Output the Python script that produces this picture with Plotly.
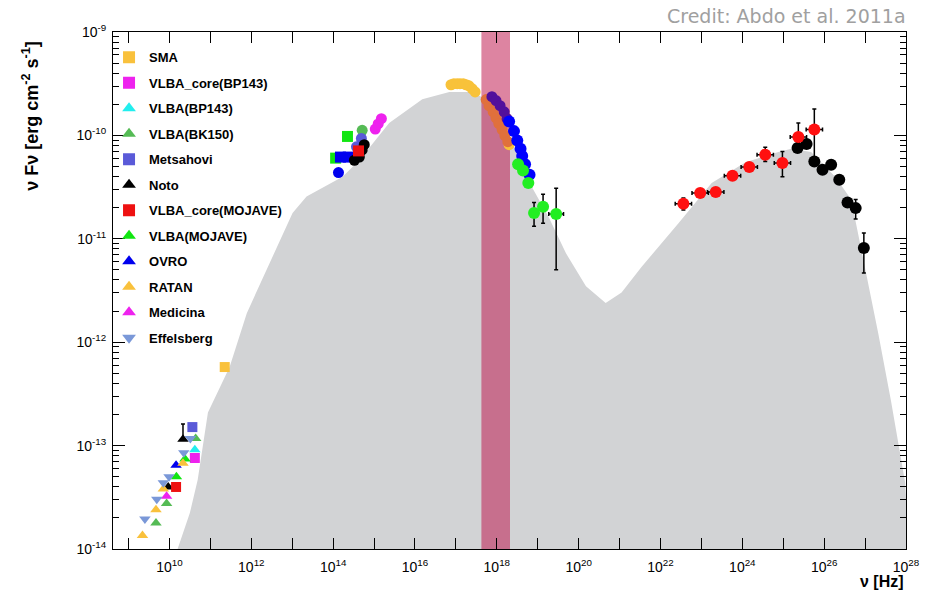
import plotly.graph_objects as go

# ---------------- data ----------------
# SSC model envelope (grey area)
model_nu = [1.58e10, 3.16e10, 4.90e10, 8.71e10, 2.95e11, 7.76e11, 4.17e12, 1.02e13, 2.24e13,
            1.70e14, 4.37e14, 2.34e15, 1.51e16, 6.92e16, 2.51e17, 4.37e17, 1.12e18, 2.34e18,
            7.24e18, 1.86e19, 4.90e19, 1.51e20, 4.57e20, 1.12e21, 3.47e21, 2.75e22, 1.78e23,
            1.20e24, 7.59e24, 1.58e25, 4.79e25, 1.86e26, 4.57e26, 1.00e27, 2.09e27, 4.27e27,
            9.55e27, 1.12e28]
model_flux = [1.00e-14, 2.24e-14, 4.68e-14, 2.09e-13, 5.75e-13, 1.91e-12, 8.32e-12, 1.78e-11, 2.57e-11,
              3.98e-11, 5.75e-11, 1.32e-10, 2.24e-10, 2.63e-10, 2.63e-10, 2.34e-10, 1.51e-10, 8.51e-11,
              3.16e-11, 1.62e-11, 7.24e-12, 3.47e-12, 2.40e-12, 3.02e-12, 5.37e-12, 1.41e-11, 3.47e-11,
              5.50e-11, 6.92e-11, 7.41e-11, 6.92e-11, 3.98e-11, 2.40e-11, 5.37e-12, 1.23e-12, 2.75e-13,
              4.37e-14, 1.41e-14]

# X-ray band (2-10 keV)
band_nu = [4.2e17, 2.1e18]

# Radio data (legend entries)
radio = [
    # name, symbol, color, nu, flux
    ("SMA", "square", "#f9c13c", [2.24e11], [5.75e-13]),
    ("VLBA_core(BP143)", "square", "#ee22ee", [4.17e10], [7.59e-14]),
    ("VLBA(BP143)", "triangle-up", "#22eeee", [4.17e10], [9.12e-14]),
    ("VLBA(BK150)", "triangle-up", "#55bb55", [4.37e10, 8.51e9, 4.68e9], [1.17e-13, 2.75e-14, 1.78e-14]),
    ("Metsahovi", "square", "#5a5ad8", [3.63e10], [1.51e-13]),
    ("Noto", "triangle-up", "#000000", [2.14e10, 9.33e9], [1.15e-13, 3.98e-14]),
    ("VLBA_core(MOJAVE)", "square", "#ee1111", [1.45e10], [3.98e-14]),
    ("VLBA(MOJAVE)", "triangle-up", "#11e611", [1.48e10, 2.40e10], [5.01e-14, 7.41e-14]),
    ("OVRO", "triangle-up", "#0000ee", [1.45e10], [6.46e-14]),
    ("RATAN", "triangle-up", "#f9c13c", [2.14e10, 7.08e9, 4.68e9, 2.19e9], [6.76e-14, 3.80e-14, 2.40e-14, 1.35e-14]),
    ("Medicina", "triangle-up", "#ee22ee", [8.51e9], [3.24e-14]),
    ("Effelsberg", "triangle-down", "#7a98d8", [3.24e10, 2.24e10, 9.77e9, 7.08e9, 4.90e9, 2.51e9],
     [1.17e-13, 8.51e-14, 5.01e-14, 4.37e-14, 3.02e-14, 1.95e-14]),
]
noto_err_hi = [1.62e-13, 3.98e-14]

# Optical / UV data
opt = [
    ("square", "#11e611", [2.24e14, 1.15e14], [9.77e-11, 6.03e-11]),
    ("square", "#0000ee", [1.51e14, 2.34e14], [6.17e-11, 6.17e-11]),
    ("circle", "#0000ee", [1.35e14], [4.37e-11]),
    ("circle", "#55bb55", [5.13e14], [1.12e-10]),
    ("circle", "#5a5ad8", [4.90e14, 3.72e14], [9.33e-11, 7.76e-11]),
    ("circle", "#000000", [5.75e14, 5.13e14, 4.37e14, 3.31e14], [8.13e-11, 7.24e-11, 6.17e-11, 5.75e-11]),
    ("square", "#ee1111", [4.17e14], [7.08e-11]),
    ("circle", "#ee22ee", [1.07e15, 1.26e15, 1.51e15], [1.15e-10, 1.29e-10, 1.45e-10]),
]

# X-ray data
xr_yellow_nu = [7.59e16, 8.91e16, 1.07e17, 1.26e17, 1.51e17, 1.78e17, 2.09e17, 2.51e17, 2.95e17, 2.00e18]
xr_yellow_fl = [3.09e-10, 3.16e-10, 3.16e-10, 3.16e-10, 3.16e-10, 3.09e-10, 3.02e-10, 2.82e-10, 2.63e-10, 8.13e-11]
xr_orange_nu = [5.50e17, 6.46e17, 8.13e17, 9.55e17, 1.12e18, 1.35e18, 1.58e18, 1.86e18]
xr_orange_fl = [2.22e-10, 1.94e-10, 1.69e-10, 1.48e-10, 1.30e-10, 1.14e-10, 9.93e-11, 8.69e-11]
xr_purple_nu = [7.59e17, 9.55e17, 1.20e18, 1.51e18, 1.78e18]
xr_purple_fl = [2.37e-10, 2.17e-10, 1.94e-10, 1.69e-10, 1.45e-10]
xr_blue_nu = [2.00e18, 2.63e18, 3.16e18, 3.80e18, 4.17e18, 4.90e18, 6.31e18]
xr_blue_fl = [1.36e-10, 1.10e-10, 8.91e-11, 7.41e-11, 6.31e-11, 5.25e-11, 4.17e-11]
xr_green_nu = [3.31e18, 4.37e18, 5.89e18, 8.13e18, 1.35e19, 2.82e19]
xr_green_fl = [5.25e-11, 4.57e-11, 3.47e-11, 1.78e-11, 2.04e-11, 1.74e-11]
xr_green_lo = [5.25e-11, 4.57e-11, 3.20e-11, 1.32e-11, 1.41e-11, 5.01e-12]
xr_green_hi = [5.25e-11, 4.57e-11, 3.47e-11, 2.24e-11, 2.69e-11, 3.09e-11]
xr_green_nulo = [3.31e18, 4.37e18, 5.89e18, 6.46e18, 1.07e19, 1.86e19]
xr_green_nuhi = [3.31e18, 4.37e18, 5.89e18, 1.02e19, 1.70e19, 4.27e19]

# Fermi-LAT (red)
lat_nu = [3.63e22, 9.33e22, 2.24e23, 5.75e23, 1.48e24, 3.63e24, 9.55e24, 2.34e25, 5.75e25]
lat_fl = [2.18e-11, 2.77e-11, 2.83e-11, 4.07e-11, 4.94e-11, 6.50e-11, 5.41e-11, 9.64e-11, 1.14e-10]
lat_lo = [1.90e-11, 2.55e-11, 2.62e-11, 3.75e-11, 4.60e-11, 5.60e-11, 3.98e-11, 8.51e-11, 6.08e-11]
lat_hi = [2.48e-11, 3.00e-11, 3.05e-11, 4.40e-11, 5.30e-11, 7.66e-11, 7.00e-11, 1.32e-10, 1.80e-10]
lat_nulo = [2.29e22, 5.89e22, 1.41e23, 3.63e23, 9.33e23, 2.29e24, 6.03e24, 1.48e25, 3.63e25]
lat_nuhi = [5.75e22, 1.48e23, 3.55e23, 9.12e23, 2.34e24, 5.75e24, 1.51e25, 3.72e25, 9.12e25]

# VHE (black)
vhe_nu = [2.24e25, 3.72e25, 5.75e25, 9.12e25, 1.48e26, 2.34e26, 3.72e26, 5.89e26, 9.33e26]
vhe_fl = [7.55e-11, 8.26e-11, 5.60e-11, 4.66e-11, 5.20e-11, 3.72e-11, 2.24e-11, 1.98e-11, 8.13e-12]
vhe_lo = [7.55e-11, 8.26e-11, 5.60e-11, 4.66e-11, 5.20e-11, 3.40e-11, 2.09e-11, 1.55e-11, 4.68e-12]
vhe_hi = [7.55e-11, 8.26e-11, 5.60e-11, 4.66e-11, 5.20e-11, 3.72e-11, 2.40e-11, 2.40e-11, 1.14e-11]

x_tick_exp = list(range(9, 29))
x_tick_labels = ["" if e % 2 else "10<sup>%d</sup>" % e for e in x_tick_exp]
y_tick_exp = [-14, -13, -12, -11, -10, -9]
y_tick_labels = ["10<sup>%d</sup>" % e for e in y_tick_exp]

# ---------------- figure ----------------
FONT = "Liberation Sans, Arial, Helvetica, sans-serif"
fig = go.Figure()

FLOOR = 1e-16
fig.add_trace(go.Scatter(
    x=[model_nu[0]] + model_nu + [model_nu[-1], model_nu[0]],
    y=[FLOOR] + model_flux + [FLOOR, FLOOR],
    mode="lines", fill="toself", fillcolor="#d2d3d5", line=dict(width=0),
    showlegend=False, hoverinfo="skip"))

fig.add_trace(go.Scatter(
    x=[band_nu[0], band_nu[1], band_nu[1], band_nu[0], band_nu[0]],
    y=[FLOOR, FLOOR, 1e-8, 1e-8, FLOOR],
    mode="lines", fill="toself", fillcolor="rgba(190,20,75,0.52)", line=dict(width=0),
    showlegend=False, hoverinfo="skip"))

def pts(x, y, sym, col, size=10, **kw):
    fig.add_trace(go.Scatter(x=x, y=y, mode="markers",
                             marker=dict(symbol=sym, color=col, size=size, line=dict(width=0)),
                             showlegend=False, **kw))

for sym, col, x, y in opt:
    pts(x, y, sym, col, 11)

pts(xr_yellow_nu, xr_yellow_fl, "circle", "#f8c23a", 11)
pts(xr_orange_nu, xr_orange_fl, "circle", "#e0703c", 11)
pts(xr_purple_nu, xr_purple_fl, "circle", "#52109c", 11)
pts(xr_blue_nu, xr_blue_fl, "circle", "#0000ff", 12)
pts(xr_green_nu, xr_green_fl, "circle", "#22ee22", 12,
    error_y=dict(type="data", symmetric=False,
                 array=[h - v for h, v in zip(xr_green_hi, xr_green_fl)],
                 arrayminus=[v - l for l, v in zip(xr_green_lo, xr_green_fl)],
                 color="black", thickness=1.5, width=2),
    error_x=dict(type="data", symmetric=False,
                 array=[h - v for h, v in zip(xr_green_nuhi, xr_green_nu)],
                 arrayminus=[v - l for l, v in zip(xr_green_nulo, xr_green_nu)],
                 color="black", thickness=1.5, width=2))

pts(vhe_nu, vhe_fl, "circle", "#000000", 12,
    error_y=dict(type="data", symmetric=False,
                 array=[h - v for h, v in zip(vhe_hi, vhe_fl)],
                 arrayminus=[v - l for l, v in zip(vhe_lo, vhe_fl)],
                 color="black", thickness=1.5, width=2))
pts(lat_nu, lat_fl, "circle", "#ff1010", 12,
    error_y=dict(type="data", symmetric=False,
                 array=[h - v for h, v in zip(lat_hi, lat_fl)],
                 arrayminus=[v - l for l, v in zip(lat_lo, lat_fl)],
                 color="black", thickness=1.5, width=2),
    error_x=dict(type="data", symmetric=False,
                 array=[h - v for h, v in zip(lat_nuhi, lat_nu)],
                 arrayminus=[v - l for l, v in zip(lat_nulo, lat_nu)],
                 color="black", thickness=1.5, width=2))

for i, (name, sym, col, x, y) in enumerate(radio):
    kw = {}
    if name == "Noto":
        kw["error_y"] = dict(type="data", symmetric=False,
                             array=[h - v for h, v in zip(noto_err_hi, y)],
                             arrayminus=[0] * len(y), color="black", thickness=1.5, width=2)
    fig.add_trace(go.Scatter(x=x, y=y, mode="markers", name=name, legendgroup="g%d" % i,
                             marker=dict(symbol=sym, color=col, size=10, line=dict(width=0)), **kw))

axis_common = dict(type="log", showline=True, linecolor="black", linewidth=1, mirror="ticks",
                   ticks="inside", tickcolor="black", showgrid=False, zeroline=False,
                   tickfont=dict(family=FONT, size=14, color="black"))

fig.update_xaxes(**axis_common, range=[8.62, 28], tickmode="array",
                 tickvals=[10.0 ** e for e in x_tick_exp], ticktext=x_tick_labels, ticklen=11,
                 ticklabelstandoff=5)
fig.update_yaxes(**axis_common, range=[-14, -9], tickmode="array",
                 tickvals=[10.0 ** e for e in y_tick_exp], ticktext=y_tick_labels, ticklen=12,
                 ticklabelstandoff=3,
                 minor=dict(ticks="inside", ticklen=6, tickcolor="black", showgrid=False,
                            tickvals=[m * 10.0 ** e for e in y_tick_exp[:-1] for m in range(2, 10)]))

fig.update_layout(
    width=932, height=596, margin=dict(l=113, r=24, t=32, b=47),
    paper_bgcolor="white", plot_bgcolor="white",
    font=dict(family=FONT, color="black"),
    legend=dict(x=-0.005, y=0.98, xanchor="left", yanchor="top", bgcolor="rgba(0,0,0,0)",
                font=dict(family=FONT, size=13, color="black", weight="bold"),
                tracegroupgap=5.6, traceorder="grouped", itemsizing="constant"),
    annotations=[
        dict(text="ν Fν [erg cm<sup>-2</sup> s<sup>-1</sup>]", xref="paper", yref="paper",
             x=-0.104, y=0.985, xanchor="center", yanchor="top", textangle=-90, showarrow=False,
             font=dict(family=FONT, size=18, color="black", weight="bold")),
        dict(text="ν [Hz]", xref="paper", yref="paper", x=1.0, y=-0.062, xanchor="right",
             yanchor="middle", showarrow=False,
             font=dict(family=FONT, size=16, color="black", weight="bold")),
        dict(text="Credit: Abdo et al. 2011a", xref="paper", yref="paper", x=1.003, y=1.03,
             xanchor="right", yanchor="middle", showarrow=False,
             font=dict(family="DejaVu Sans", size=19, color="#a0a0a0")),
    ],
)

fig.write_html("out.html")
